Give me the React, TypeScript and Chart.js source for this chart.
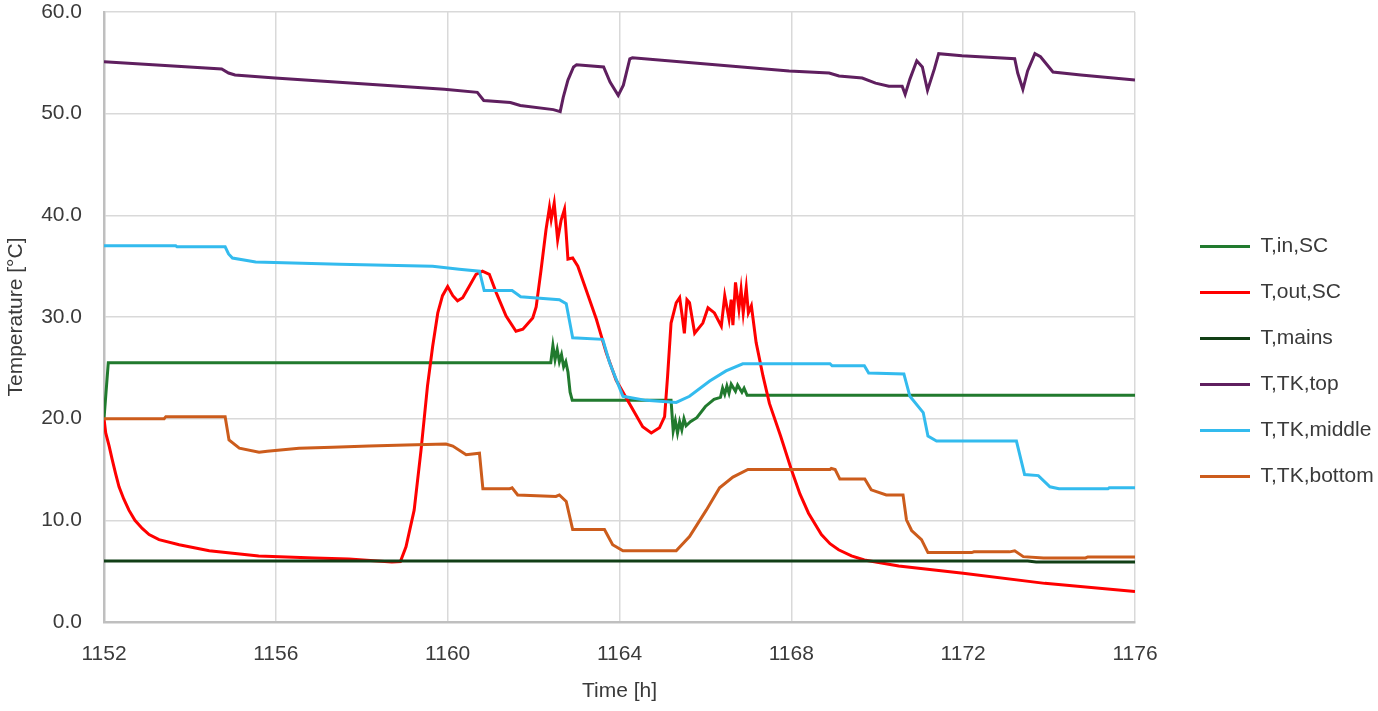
import { useEffect, useRef } from "react"
import { Chart, registerables } from "chart.js"

Chart.register(...registerables)

// time [h] / temperature [°C] pairs
const tInSC: [number, number][] = [
  [1152, 20.0], [1152.1, 25.5], [1162.4, 25.5], [1162.45, 27.2], [1162.5, 25.8], [1162.55, 26.8],
  [1162.6, 25.6], [1162.65, 26.3], [1162.7, 25.1], [1162.75, 25.6], [1162.8, 24.6], [1162.85, 22.6],
  [1162.9, 21.8], [1165.2, 21.8], [1165.25, 18.8], [1165.3, 19.8], [1165.35, 18.6], [1165.4, 19.7],
  [1165.45, 18.9], [1165.5, 20.0], [1165.55, 19.3], [1165.65, 19.7], [1165.8, 20.1], [1166.0, 21.2],
  [1166.2, 21.9], [1166.35, 22.1], [1166.4, 23.0], [1166.45, 22.4], [1166.5, 23.2], [1166.55, 22.5],
  [1166.6, 23.4], [1166.7, 22.7], [1166.75, 23.3], [1166.85, 22.6], [1166.9, 23.0], [1166.97, 22.3],
  [1176, 22.3],
]

const tOutSC: [number, number][] = [
  [1152, 20.0], [1152.04, 18.6], [1152.12, 17.3], [1152.19, 16.0], [1152.27, 14.6], [1152.35, 13.3],
  [1152.46, 12.1], [1152.58, 11.0], [1152.72, 10.0], [1152.89, 9.2], [1153.05, 8.6], [1153.28, 8.1],
  [1153.75, 7.6], [1154.45, 7.0], [1155.6, 6.5], [1156.9, 6.3], [1157.7, 6.2],
  [1158.7, 5.9], [1158.9, 5.95], [1159.03, 7.4], [1159.22, 11.0], [1159.38, 16.9], [1159.53, 23.2],
  [1159.65, 27.1], [1159.77, 30.4], [1159.88, 32.1], [1160.0, 33.0], [1160.12, 32.1], [1160.23, 31.6],
  [1160.35, 31.9], [1160.5, 33.0], [1160.66, 34.2], [1160.81, 34.5], [1160.97, 34.2], [1161.13, 32.4],
  [1161.36, 30.1], [1161.59, 28.6], [1161.75, 28.8], [1161.98, 29.9], [1162.06, 31.0], [1162.17, 34.5],
  [1162.29, 38.6], [1162.37, 40.8], [1162.41, 39.6], [1162.48, 41.2], [1162.56, 37.6], [1162.64, 39.5],
  [1162.72, 40.6], [1162.8, 35.7], [1162.91, 35.8], [1163.03, 35.0], [1163.22, 32.7], [1163.46, 29.8],
  [1163.69, 26.5], [1163.92, 23.8], [1164.23, 21.5], [1164.54, 19.2], [1164.74, 18.6], [1164.93, 19.1],
  [1165.05, 20.2], [1165.12, 24.2], [1165.2, 29.4], [1165.32, 31.4], [1165.4, 31.9], [1165.46, 30.1],
  [1165.51, 28.4], [1165.57, 31.7], [1165.63, 31.4], [1165.75, 28.4], [1165.94, 29.4], [1166.06, 30.9],
  [1166.21, 30.4], [1166.37, 29.1], [1166.45, 32.1], [1166.55, 29.8], [1166.6, 31.7], [1166.64, 29.2],
  [1166.7, 33.4], [1166.78, 30.8], [1166.83, 32.7], [1166.88, 30.4], [1166.95, 32.9], [1167.0, 30.4],
  [1167.07, 31.1], [1167.18, 27.5], [1167.34, 24.2], [1167.49, 21.5], [1167.75, 18.3], [1168.0, 15.0],
  [1168.2, 12.6], [1168.4, 10.7], [1168.7, 8.6], [1168.9, 7.7], [1169.1, 7.1], [1169.4, 6.5],
  [1169.7, 6.1], [1170.5, 5.5], [1172.0, 4.8], [1173.9, 3.8], [1176, 3.0],
]

const tMains: [number, number][] = [
  [1152, 6.0], [1173.5, 6.0], [1173.7, 5.9], [1176, 5.9],
]

const tTkTop: [number, number][] = [
  [1152, 55.1], [1154.74, 54.4], [1154.9, 54.0], [1155.05, 53.8], [1155.98, 53.5], [1159.92, 52.4],
  [1160.69, 52.1], [1160.84, 51.3], [1161.46, 51.1], [1161.69, 50.8], [1162.46, 50.4], [1162.62, 50.2],
  [1162.69, 51.6], [1162.8, 53.3], [1162.93, 54.6], [1163.0, 54.8], [1163.63, 54.6], [1163.78, 53.1],
  [1163.97, 51.8], [1164.09, 52.8], [1164.24, 55.4], [1164.3, 55.5], [1167.95, 54.2], [1168.88, 54.0],
  [1169.11, 53.7], [1169.65, 53.5], [1169.96, 53.0], [1170.27, 52.7], [1170.58, 52.7], [1170.65, 51.9],
  [1170.76, 53.4], [1170.92, 55.2], [1171.05, 54.6], [1171.17, 52.3], [1171.33, 54.4], [1171.43, 55.9],
  [1171.97, 55.7], [1173.2, 55.4], [1173.27, 54.0], [1173.39, 52.4], [1173.5, 54.2], [1173.67, 55.9],
  [1173.8, 55.6], [1174.09, 54.1], [1174.74, 53.8], [1176, 53.3],
]

const tTkMiddle: [number, number][] = [
  [1152, 37.0], [1153.67, 37.0], [1153.7, 36.9], [1154.82, 36.9], [1154.9, 36.2], [1154.99, 35.8],
  [1155.53, 35.4], [1157.48, 35.2], [1159.65, 35.0], [1160.27, 34.7], [1160.74, 34.5], [1160.85, 32.6],
  [1161.5, 32.6], [1161.7, 32.0], [1162.6, 31.7], [1162.76, 31.3], [1162.91, 27.95], [1163.61, 27.8],
  [1163.77, 25.5], [1164.08, 22.2], [1164.62, 21.8], [1165.32, 21.6], [1165.63, 22.2], [1166.1, 23.7],
  [1166.48, 24.7], [1166.87, 25.4], [1168.9, 25.4], [1168.95, 25.2], [1169.7, 25.2], [1169.8, 24.5],
  [1170.62, 24.4], [1170.76, 22.2], [1171.07, 20.6], [1171.18, 18.3], [1171.38, 17.8], [1173.24, 17.8],
  [1173.43, 14.5], [1173.75, 14.4], [1174.02, 13.3], [1174.23, 13.1], [1175.37, 13.1], [1175.4, 13.2],
  [1176, 13.2],
]

const tTkBottom: [number, number][] = [
  [1152, 20.0], [1153.4, 20.0], [1153.44, 20.2], [1154.82, 20.2], [1154.91, 17.9], [1155.15, 17.1],
  [1155.61, 16.7], [1155.8, 16.8], [1156.54, 17.1], [1157.32, 17.2], [1158.17, 17.3], [1159.03, 17.4],
  [1159.96, 17.5], [1160.12, 17.3], [1160.43, 16.45], [1160.74, 16.6], [1160.82, 13.1], [1161.44, 13.1],
  [1161.5, 13.2], [1161.63, 12.5], [1162.52, 12.35], [1162.6, 12.5], [1162.76, 11.85], [1162.91, 9.1],
  [1163.65, 9.1], [1163.84, 7.6], [1164.08, 7.0], [1165.32, 7.0], [1165.63, 8.4], [1166.02, 11.0],
  [1166.33, 13.2], [1166.64, 14.25], [1166.99, 15.0], [1168.9, 15.0], [1168.93, 15.1], [1169.02, 15.0],
  [1169.13, 14.06], [1169.71, 14.06], [1169.86, 13.0], [1170.21, 12.5], [1170.6, 12.5], [1170.68, 10.05],
  [1170.8, 9.0], [1171.03, 8.1], [1171.18, 6.83], [1172.2, 6.83], [1172.25, 6.9], [1173.08, 6.9],
  [1173.2, 7.0], [1173.4, 6.43], [1173.87, 6.3], [1174.85, 6.3], [1174.9, 6.4], [1176, 6.4],
]

const seriesNames = ["T,in,SC", "T,out,SC", "T,mains", "T,TK,top", "T,TK,middle", "T,TK,bottom"]
const seriesData = [tInSC, tOutSC, tMains, tTkTop, tTkMiddle, tTkBottom]
const seriesColors = ["#217a2e", "#ff0000", "#113f16", "#5f1f5f", "#33bbee", "#cc5c1c"]

const FONT = "'Liberation Sans', Arial, sans-serif"
const TEXT = "#3a3a3a"

// plot box of the reference (Excel layout), in px
const Y_AXIS_WIDTH = 104
const X_AXIS_HEIGHT = 89
const PLOT_TOP = 12

// Excel leaves a wide gap between the plot and the legend; widen the legend box
// and shift its items right so the plot ends where the reference ends
const LEGEND_WIDTH = 243
const LEGEND_SHIFT_X = 40
const LEGEND_SHIFT_Y = 6

const legendGap = {
  id: "legendGap",
  afterInit(chart: any) {
    const legend = chart.legend
    if (!legend) return
    const fit = legend.fit.bind(legend)
    legend.fit = () => {
      fit()
      legend.width = LEGEND_WIDTH
    }
    const draw = legend.draw.bind(legend)
    legend.draw = (...args: any[]) => {
      const ctx = chart.ctx
      ctx.save()
      ctx.translate(LEGEND_SHIFT_X, LEGEND_SHIFT_Y)
      draw(...args)
      ctx.restore()
    }
  },
}

export default function App() {
  const canvasRef = useRef<HTMLCanvasElement>(null)

  useEffect(() => {
    document.body.style.margin = "0"
    if (!canvasRef.current) return

    const chart = new Chart(canvasRef.current, {
      type: "line",
      data: {
        datasets: seriesData.map((pts, i) => ({
          label: seriesNames[i],
          data: pts.map(([x, y]) => ({ x, y })),
          borderColor: seriesColors[i],
          backgroundColor: seriesColors[i],
          borderWidth: 3,
          pointRadius: 0,
          tension: 0,
          // later series drawn on top, as in the source
          order: seriesData.length - i,
        })),
      },
      options: {
        animation: false,
        responsive: true,
        maintainAspectRatio: false,
        layout: { padding: 0 },
        plugins: {
          legend: {
            position: "right",
            labels: {
              usePointStyle: true,
              pointStyle: "line",
              pointStyleWidth: 50,
              boxWidth: 50,
              padding: 25,
              color: TEXT,
              font: { family: FONT, size: 21 },
              sort: (a, b) => (a.datasetIndex ?? 0) - (b.datasetIndex ?? 0),
            },
          },
          tooltip: { enabled: false },
        },
        scales: {
          x: {
            type: "linear",
            min: 1152,
            max: 1176,
            afterFit: (scale) => {
              scale.height = X_AXIS_HEIGHT
            },
            ticks: {
              stepSize: 4,
              color: TEXT,
              font: { family: FONT, size: 21 },
              padding: 20,
              callback: (v) => String(v),
            },
            grid: { color: "#d9d9d9", lineWidth: 1.5, drawTicks: false },
            border: { color: "#bfbfbf", width: 2.5 },
            title: {
              display: true,
              text: "Time [h]",
              color: TEXT,
              font: { family: FONT, size: 21 },
              padding: { top: 0, bottom: 7 },
            },
          },
          y: {
            min: 0,
            max: 60,
            afterFit: (scale) => {
              scale.width = Y_AXIS_WIDTH
              scale.paddingTop = PLOT_TOP
              scale.paddingBottom = PLOT_TOP
            },
            ticks: {
              stepSize: 10,
              color: TEXT,
              font: { family: FONT, size: 21 },
              padding: 22,
              callback: (v) => Number(v).toFixed(1),
            },
            grid: { color: "#d9d9d9", lineWidth: 1.5, drawTicks: false },
            border: { color: "#bfbfbf", width: 2.5 },
            title: {
              display: true,
              text: "Temperature [°C]",
              color: TEXT,
              font: { family: FONT, size: 21 },
              padding: { top: 4, bottom: 0 },
            },
          },
        },
      },
      plugins: [legendGap],
    })

    return () => {
      chart.destroy()
    }
  }, [])

  return (
    <div style={{ width: "1378px", height: "711px", position: "relative" }}>
      <canvas ref={canvasRef} />
    </div>
  )
}
